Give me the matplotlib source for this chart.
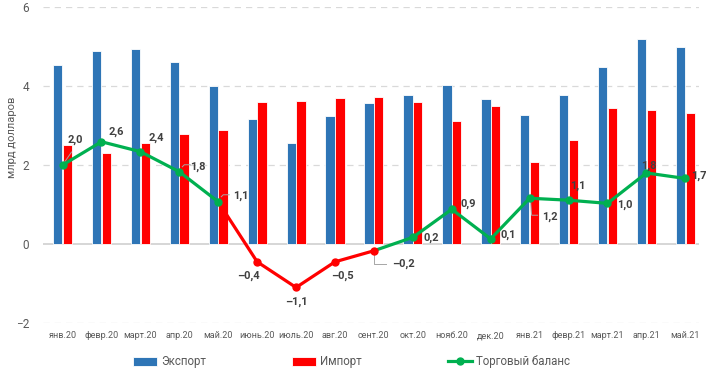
import numpy as np
import matplotlib.pyplot as plt

plt.rcParams['font.family'] = ['Roboto', 'DejaVu Sans']

# данные (млрд долларов)
months = ['янв.20', 'февр.20', 'март.20', 'апр.20', 'май.20', 'июнь.20', 'июль.20',
          'авг.20', 'сент.20', 'окт.20', 'нояб.20', 'дек.20', 'янв.21', 'февр.21',
          'март.21', 'апр.21', 'май.21']
export = [4.53, 4.89, 4.94, 4.61, 4.00, 3.16, 2.56, 3.24, 3.57, 3.77, 4.03, 3.67,
          3.27, 3.77, 4.48, 5.19, 4.99]
imports = [2.51, 2.30, 2.56, 2.78, 2.89, 3.59, 3.62, 3.70, 3.72, 3.59, 3.11, 3.49,
           2.08, 2.63, 3.44, 3.39, 3.32]
balance = [2.0, 2.59, 2.34, 1.83, 1.07, -0.45, -1.1, -0.45, -0.17, 0.17, 0.88, 0.13,
           1.16, 1.11, 1.03, 1.80, 1.66]
balance_labels = ['2,0', '2,6', '2,4', '1,8', '1,1', '-0,4', '-1,1', '-0,5', '-0,2', '0,2',
                  '0,9', '0,1', '1,2', '1,1', '1,0', '1,8', '1,7']

# смещения подписей (пиксели)
label_offsets = [(13, 25), (15, 10), (16, 14), (19, 5), (23, 6), (-9, -14), (0, -14),
                 (7, -14), (30, -13), (18, -1), (16, 5), (18, 4), (20, -19), (9, 14),
                 (17, -1), (2, 7), (14, 3)]

blue = '#2E75B6'
red = '#FF0000'
green = '#00B050'
grey = '#595959'

fig = plt.figure(figsize=(7.06, 3.73), dpi=100)
ax = fig.add_axes([0.061, 0.134, 0.929, 0.847])

x = np.arange(len(months))
w = 0.24
h_exp = ax.bar(x - 0.125, export, w, color=blue, edgecolor='white', linewidth=0.6,
               label='Экспорт', zorder=2)
h_imp = ax.bar(x + 0.125, imports, w, color=red, edgecolor='white', linewidth=0.6,
               label='Импорт', zorder=2)

# линия баланса: зелёная / красная
xb = x.astype(float)
b = np.array(balance)
h_bal, = ax.plot(xb[:5], b[:5], color=green, lw=2.3, marker='o', ms=5, zorder=4,
                 label='Торговый баланс')
ax.plot(xb[4:9], b[4:9], color=red, lw=2.3, zorder=3)
ax.plot(xb[5:9], b[5:9], color=red, lw=0, marker='o', ms=5, zorder=4)
ax.plot(xb[8:], b[8:], color=green, lw=2.3, zorder=3)
ax.plot(xb[9:], b[9:], color=green, lw=0, marker='o', ms=5, zorder=4)

for i, (lab, off) in enumerate(zip(balance_labels, label_offsets)):
    ax.annotate(lab.replace('-', '–'), (xb[i], b[i]), xytext=off, textcoords='offset pixels',
                ha='center', va='center', fontsize=8, fontweight='bold', color='#404040',
                zorder=5)

ax.set_xlim(-0.5, 16.35)
ax.set_ylim(-2, 6)


# выноски
def leader(i, pts):
    ox, oy = ax.transData.transform((xb[i], b[i]))
    px = [ox + p[0] for p in pts]
    py = [oy + p[1] for p in pts]
    dd = ax.transData.inverted().transform(np.column_stack([px, py]))
    ax.plot(dd[:, 0], dd[:, 1], color='#A6A6A6', lw=0.7, zorder=3)


leader(0, [(0, 0), (9, 13)])
leader(3, [(3, 5), (5, 7), (11, 7)])
leader(4, [(3, 5), (5, 7), (11, 7)])
leader(8, [(0, -3), (0, -13), (12, -13)])
leader(12, [(1, -3), (2, -17), (8, -17)])

ax.set_yticks([-2, 0, 2, 4, 6])
ax.set_xticks(x)
ax.set_xticklabels(months, fontsize=6.5, color=grey)
ax.tick_params(axis='y', labelsize=8.5, colors=grey, length=0, pad=10)
ax.tick_params(axis='x', length=0, pad=6)
for yv in [-2, 2, 4, 6]:
    ax.axhline(yv, color='#D9D9D9', lw=0.9, ls=(0, (5, 4)), zorder=1)
ax.axhline(0, color='#D0D0D0', lw=1.2, zorder=1)
for s in ax.spines.values():
    s.set_visible(False)
fig.text(12 / 706, 0.633, 'млрд долларов', rotation=90, fontsize=8, color=grey,
         ha='center', va='center')

ax.legend([h_exp, h_imp, h_bal], ['Экспорт', 'Импорт', 'Торговый баланс'],
          loc='center', bbox_to_anchor=(0.47, -0.123), ncol=3, frameon=False,
          fontsize=8.3, labelcolor=grey, columnspacing=7.5, handlelength=2.1,
          handletextpad=0.3, handleheight=0.8)

fig.savefig('out.png', dpi=100)
